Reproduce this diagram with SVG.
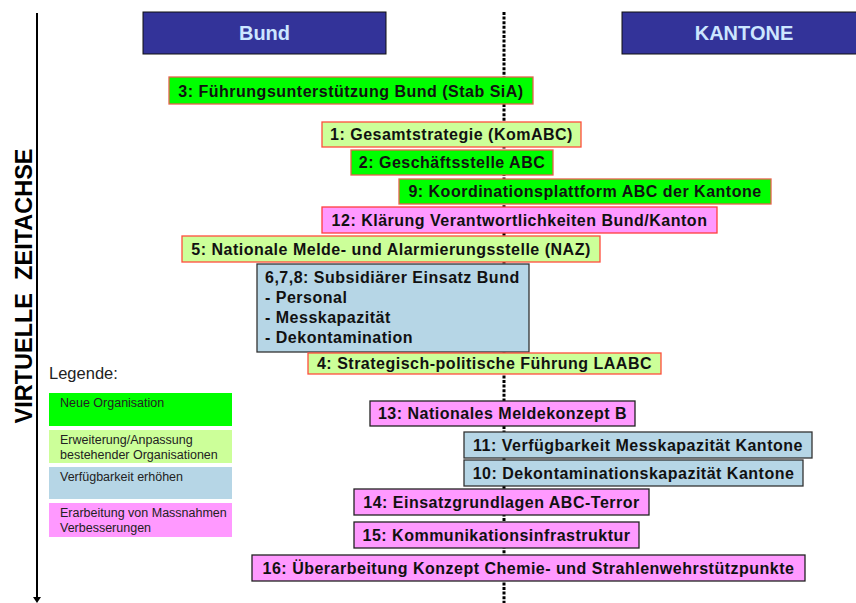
<svg xmlns="http://www.w3.org/2000/svg" width="856" height="603" viewBox="0 0 856 603">
<style>
  .hdr { fill: #333399; stroke: #111; stroke-width: 1; }
  .hdrt { font-family: "Liberation Sans", Arial, sans-serif; font-weight: bold; font-size: 20px; fill: #CCE6FF; text-anchor: middle; }
  .box { stroke-width: 1.3; }
  .g { fill: #00FF00; stroke: #E8604C; }
  .lg { fill: #CCFF99; stroke: #FF4D3D; }
  .bl { fill: #B6D6E6; stroke: #333; }
  .pk { fill: #FF99FF; stroke: #222; }
  .pkr { fill: #FF99FF; stroke: #FF3D3D; }
  .t { font-family: "Liberation Sans", Arial, sans-serif; font-weight: bold; font-size: 16px; letter-spacing: 0.5px; fill: #111; text-anchor: middle; }
  .tl { font-family: "Liberation Sans", Arial, sans-serif; font-weight: bold; font-size: 16px; letter-spacing: 0.5px; fill: #111; }
  .leg { font-family: "Liberation Sans", Arial, sans-serif; font-size: 12.5px; fill: #222; }
</style>

<g id="connectors">
  <line x1="504" y1="12" x2="504" y2="603" stroke="#000" stroke-width="3" stroke-dasharray="3,1.6"/>
  <line x1="37" y1="13" x2="37" y2="598" stroke="#000" stroke-width="2"/>
  <polygon points="33,597 41,597 37,603" fill="#000"/>
</g>

<g id="axis-label">
  <text transform="translate(32,286) rotate(-90)" font-family="Liberation Sans, Arial, sans-serif" font-weight="bold" font-size="23.5" fill="#000" text-anchor="middle" xml:space="preserve">VIRTUELLE  ZEITACHSE</text>
</g>

<g id="hdr-bund">
  <rect class="hdr" x="143" y="12" width="243" height="42"/>
  <text class="hdrt" x="264.5" y="40">Bund</text>
</g>
<g id="hdr-kantone">
  <rect class="hdr" x="622" y="12" width="240" height="42"/>
  <text class="hdrt" x="744" y="40">KANTONE</text>
</g>

<g id="n3">
  <rect class="box g" x="169" y="77" width="364" height="27"/>
  <text class="t" x="351" y="96.5">3: Führungsunterstützung Bund (Stab SiA)</text>
</g>
<g id="n1">
  <rect class="box lg" x="322" y="122" width="259" height="25"/>
  <text class="t" x="451.5" y="140">1: Gesamtstrategie (KomABC)</text>
</g>
<g id="n2">
  <rect class="box g" x="351" y="150" width="202" height="25"/>
  <text class="t" x="452" y="168">2: Geschäftsstelle ABC</text>
</g>
<g id="n9">
  <rect class="box g" x="399" y="179" width="372" height="25"/>
  <text class="t" x="585" y="197">9: Koordinationsplattform ABC der Kantone</text>
</g>
<g id="n12">
  <rect class="box pkr" x="322" y="207" width="395" height="26"/>
  <text class="t" x="519.5" y="226">12: Klärung Verantwortlichkeiten Bund/Kanton</text>
</g>
<g id="n5">
  <rect class="box lg" x="182" y="236" width="418" height="26"/>
  <text class="t" x="391" y="255">5: Nationale Melde- und Alarmierungsstelle (NAZ)</text>
</g>
<g id="n678">
  <rect class="box bl" x="257" y="264" width="272" height="88"/>
  <text class="tl" x="265" y="283">6,7,8: Subsidiärer Einsatz Bund</text>
  <text class="tl" x="265" y="303">- Personal</text>
  <text class="tl" x="265" y="323">- Messkapazität</text>
  <text class="tl" x="265" y="343">- Dekontamination</text>
</g>
<g id="n4">
  <rect class="box lg" x="308" y="353" width="353" height="21"/>
  <text class="t" x="484.5" y="369">4: Strategisch-politische Führung LAABC</text>
</g>
<g id="n13">
  <rect class="box pk" x="370" y="401" width="265" height="25"/>
  <text class="t" x="502.5" y="419">13: Nationales Meldekonzept B</text>
</g>
<g id="n11">
  <rect class="box bl" x="464" y="432" width="348" height="26"/>
  <text class="t" x="638" y="451">11: Verfügbarkeit Messkapazität Kantone</text>
</g>
<g id="n10">
  <rect class="box bl" x="464" y="460" width="339" height="26"/>
  <text class="t" x="633.5" y="479">10: Dekontaminationskapazität Kantone</text>
</g>
<g id="n14">
  <rect class="box pk" x="354" y="489" width="295" height="26"/>
  <text class="t" x="501.5" y="508">14: Einsatzgrundlagen ABC-Terror</text>
</g>
<g id="n15">
  <rect class="box pk" x="354" y="522" width="285" height="26"/>
  <text class="t" x="496.5" y="541">15: Kommunikationsinfrastruktur</text>
</g>
<g id="n16">
  <rect class="box pk" x="252" y="555" width="553" height="26"/>
  <text class="t" x="528.5" y="574">16: Überarbeitung Konzept Chemie- und Strahlenwehrstützpunkte</text>
</g>

<g id="legend">
  <text x="49" y="379" font-family="Liberation Sans, Arial, sans-serif" font-size="16.5" fill="#222">Legende:</text>
  <rect x="49" y="393" width="183" height="33" fill="#00FF00"/>
  <text class="leg" x="60" y="407">Neue Organisation</text>
  <rect x="49" y="430" width="183" height="33" fill="#CCFF99"/>
  <text class="leg" x="60" y="444">Erweiterung/Anpassung</text>
  <text class="leg" x="60" y="459">bestehender Organisationen</text>
  <rect x="49" y="467" width="183" height="32" fill="#B6D6E6"/>
  <text class="leg" x="60" y="481">Verfügbarkeit erhöhen</text>
  <rect x="49" y="503" width="183" height="34" fill="#FF99FF"/>
  <text class="leg" x="60" y="517">Erarbeitung von Massnahmen</text>
  <text class="leg" x="60" y="532">Verbesserungen</text>
</g>
</svg>
